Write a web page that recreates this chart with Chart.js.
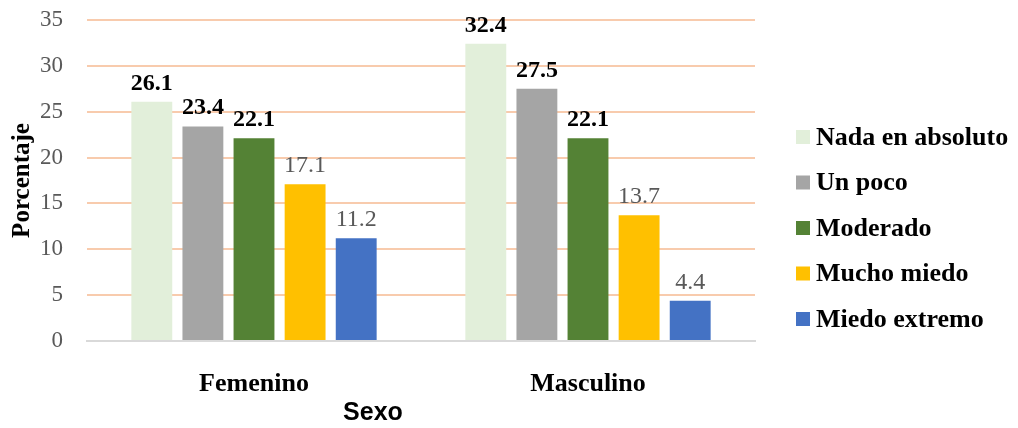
<!DOCTYPE html>
<html>
<head>
<meta charset="utf-8">
<script src="https://cdn.jsdelivr.net/npm/chart.js@4"></script>
<style>
  html, body { margin: 0; padding: 0; background: #fff; }
  #wrap { width: 1018px; height: 428px; }
</style>
</head>
<body>
<div id="wrap"><canvas id="chart" width="1018" height="428"></canvas></div>
<script>
// data
var categories = ["Femenino", "Masculino"];
var seriesNames = ["Nada en absoluto", "Un poco", "Moderado", "Mucho miedo", "Miedo extremo"];
var nadaValues = [26.1, 32.4];
var pocoValues = [23.4, 27.5];
var moderadoValues = [22.1, 22.1];
var muchoValues = [17.1, 13.7];
var extremoValues = [11.2, 4.4];
var yTicks = [0, 5, 10, 15, 20, 25, 30, 35];

var colors = ["#E2EFDA", "#A5A5A5", "#548235", "#FFC000", "#4472C4"];
var boldLabel = [true, true, true, false, false];
var serif = "'Liberation Serif', 'Times New Roman', serif";

var allValues = [nadaValues, pocoValues, moderadoValues, muchoValues, extremoValues];

function buildDatasets() {
    var ds = [];
    for (var i = 0; i < seriesNames.length; i++) {
        ds.push({
            label: seriesNames[i],
            data: allValues[i],
            backgroundColor: colors[i],
            barPercentage: 0.8,
            categoryPercentage: 0.765
        });
    }
    return ds;
}

// value labels above bars
var barLabels = {
    id: 'barLabels',
    afterDatasetsDraw: function (chart) {
        var ctx = chart.ctx;
        ctx.save();
        ctx.textAlign = 'center';
        ctx.textBaseline = 'alphabetic';
        chart.data.datasets.forEach(function (d, i) {
            var meta = chart.getDatasetMeta(i);
            ctx.font = (boldLabel[i] ? 'bold ' : '') + '24px ' + serif;
            ctx.fillStyle = boldLabel[i] ? '#000' : '#595959';
            meta.data.forEach(function (bar, j) {
                ctx.fillText(d.data[j].toFixed(1), bar.x, bar.y - 12);
            });
        });
        ctx.restore();
    }
};

// legend on the right + x axis title
var sideLegend = {
    id: 'sideLegend',
    afterDraw: function (chart) {
        var ctx = chart.ctx;
        ctx.save();
        ctx.font = 'bold 26px ' + serif;
        ctx.textBaseline = 'middle';
        ctx.textAlign = 'left';
        for (var i = 0; i < seriesNames.length; i++) {
            var y = 137 + i * 45.5;
            ctx.fillStyle = colors[i];
            ctx.fillRect(796, y - 7, 14, 14);
            ctx.fillStyle = '#000';
            ctx.fillText(seriesNames[i], 816, y + 1);
        }
        ctx.font = "bold 25px 'Liberation Sans', Arial, sans-serif";
        ctx.textAlign = 'center';
        ctx.fillText('Sexo', 373, 413);
        ctx.restore();
    }
};

var config = {
    type: 'bar',
    data: {
        labels: categories,
        datasets: buildDatasets()
    },
    options: {
        responsive: false,
        animation: false,
        layout: {
            padding: { left: 8, right: 263, top: 0, bottom: 0 }
        },
        plugins: {
            legend: { display: false },
            tooltip: { enabled: false }
        },
        scales: {
            x: {
                grid: { display: false },
                border: { color: '#D9D9D9', width: 2 },
                ticks: {
                    color: '#000',
                    font: { family: serif, size: 26, weight: 'bold' },
                    padding: 20
                },
                afterFit: function (scale) { scale.height = 87; }
            },
            y: {
                min: 0,
                max: 35,
                afterBuildTicks: function (scale) {
                    scale.ticks = yTicks.map(function (v) { return { value: v }; });
                },
                grid: {
                    color: function (c) { return c.tick && c.tick.value === 0 ? 'rgba(0,0,0,0)' : '#F8CBAD'; },
                    lineWidth: 2,
                    drawTicks: false
                },
                border: { display: false },
                ticks: {
                    color: '#595959',
                    font: { family: serif, size: 23 },
                    padding: 24
                },
                title: {
                    display: true,
                    text: 'Porcentaje',
                    color: '#000',
                    font: { family: serif, size: 25, weight: 'bold' },
                    padding: { top: 0, bottom: 0 }
                },
                afterFit: function (scale) {
                    scale.width = 79;
                    scale.paddingTop = 20;
                    scale.paddingBottom = 0;
                }
            }
        }
    },
    plugins: [barLabels, sideLegend]
};

var myChart = new Chart(document.getElementById("chart").getContext("2d"), config);
</script>
</body>
</html>
